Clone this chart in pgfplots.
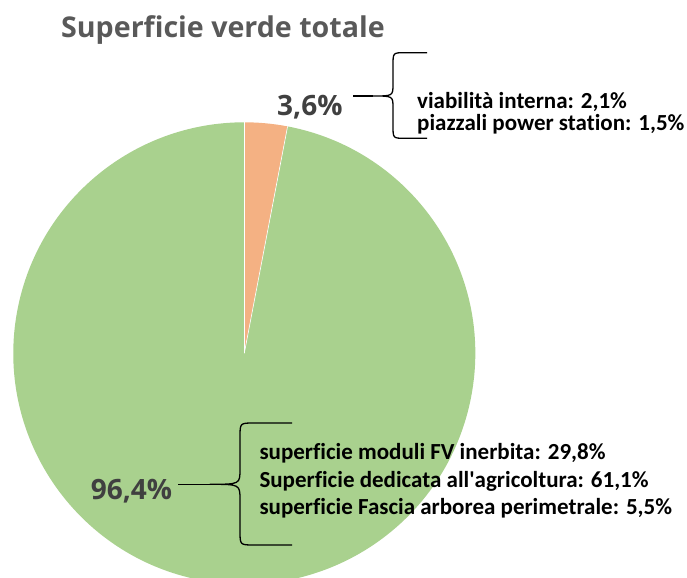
\documentclass[border=0pt]{standalone}
\usepackage{pgfplots}
\pgfplotsset{compat=1.18}
\usepackage{pgfplotstable}
\usepackage{fontspec}
\setmainfont{Carlito}[Ligatures=NoCommon]
\newfontfamily\osans{Open Sans}[Ligatures=NoCommon]
\definecolor{pgreen}{HTML}{A9D18E}
\definecolor{porange}{HTML}{F4B183}
\definecolor{ttl}{HTML}{595959}
\definecolor{lbl}{HTML}{404040}

% slice shares as drawn (percent of the circle)
\pgfplotstableread{
slice share
altro 3.0
verde 97.0
}\piedata

\begin{document}
\begin{tikzpicture}
\pgfplotstablegetelem{0}{share}\of\piedata
\pgfmathsetmacro\aEnd{90-3.6*\pgfplotsretval}
\begin{axis}[
  width=687bp, height=578bp, scale only axis,
  xmin=0, xmax=687, ymin=0, ymax=578,
  hide axis, clip=true,
]
% pie
\fill[porange] (axis cs:244.3,224.7) -- ++(90:231bp) arc[start angle=90, end angle=\aEnd, radius=231bp] -- cycle;
\fill[pgreen] (axis cs:244.3,224.7) -- ++(\aEnd:231bp) arc[start angle=\aEnd, end angle=-270, radius=231bp] -- cycle;
\draw[white, line width=0.6bp] (axis cs:244.3,224.7) -- ++(90:231bp);
\draw[white, line width=0.6bp] (axis cs:244.3,224.7) -- ++(\aEnd:231bp);

% title
\node[anchor=base west, inner sep=0pt, text=ttl, font=\osans\bfseries\fontsize{28.6bp}{34bp}\selectfont] at (axis cs:61,540.7) {Superficie verde totale};

% percent labels
\node[anchor=base west, inner sep=0pt, text=lbl, font=\osans\bfseries\fontsize{28bp}{33bp}\selectfont] at (axis cs:277,462) {3,6\%};
\node[anchor=base west, inner sep=0pt, text=lbl, font=\osans\bfseries\fontsize{28bp}{33bp}\selectfont] at (axis cs:90.7,78.7) {96,4\%};

% upper brace
\draw[black, line width=1.3bp] (axis cs:353,482) -- (axis cs:373,482);
\draw[black, line width=1.3bp, line join=round]
  (axis cs:427,525.3) -- (axis cs:405,525.3) .. controls (axis cs:393,525.3) .. (axis cs:393,513)
  -- (axis cs:393,494) .. controls (axis cs:393,482) .. (axis cs:373,482)
  .. controls (axis cs:393,482) .. (axis cs:393,470)
  -- (axis cs:393,452) .. controls (axis cs:393,439.7) .. (axis cs:405,439.7) -- (axis cs:427,439.7);
\node[anchor=base west, inner sep=0pt, font=\bfseries\fontsize{23bp}{27bp}\selectfont] at (axis cs:417,469) {viabilità interna: 2,1\%};
\node[anchor=base west, inner sep=0pt, font=\bfseries\fontsize{23bp}{27bp}\selectfont] at (axis cs:417,447.3) {piazzali power station: 1,5\%};

% lower brace
\draw[black, line width=1.3bp] (axis cs:178,93.7) -- (axis cs:210,93.7);
\draw[black, line width=1.3bp, line join=round]
  (axis cs:292,155) -- (axis cs:254,155) .. controls (axis cs:240,155) .. (axis cs:240,141)
  -- (axis cs:240,109) .. controls (axis cs:240,93.7) .. (axis cs:210,93.7)
  .. controls (axis cs:240,93.7) .. (axis cs:240,78)
  -- (axis cs:240,47) .. controls (axis cs:240,33) .. (axis cs:254,33) -- (axis cs:292,33);
\node[anchor=base west, inner sep=0pt, font=\bfseries\fontsize{23bp}{27bp}\selectfont] at (axis cs:259.3,118) {superficie moduli FV inerbita: 29,8\%};
\node[anchor=base west, inner sep=0pt, font=\bfseries\fontsize{23bp}{27bp}\selectfont] at (axis cs:259.3,90.7) {Superficie dedicata all\textquotesingle agricoltura: 61,1\%};
\node[anchor=base west, inner sep=0pt, font=\bfseries\fontsize{23bp}{27bp}\selectfont] at (axis cs:259.3,63) {superficie Fascia arborea perimetrale: 5,5\%};
\end{axis}
\pgfresetboundingbox
\path[use as bounding box] (current axis.south west) rectangle (current axis.north east);
\end{tikzpicture}
\end{document}
